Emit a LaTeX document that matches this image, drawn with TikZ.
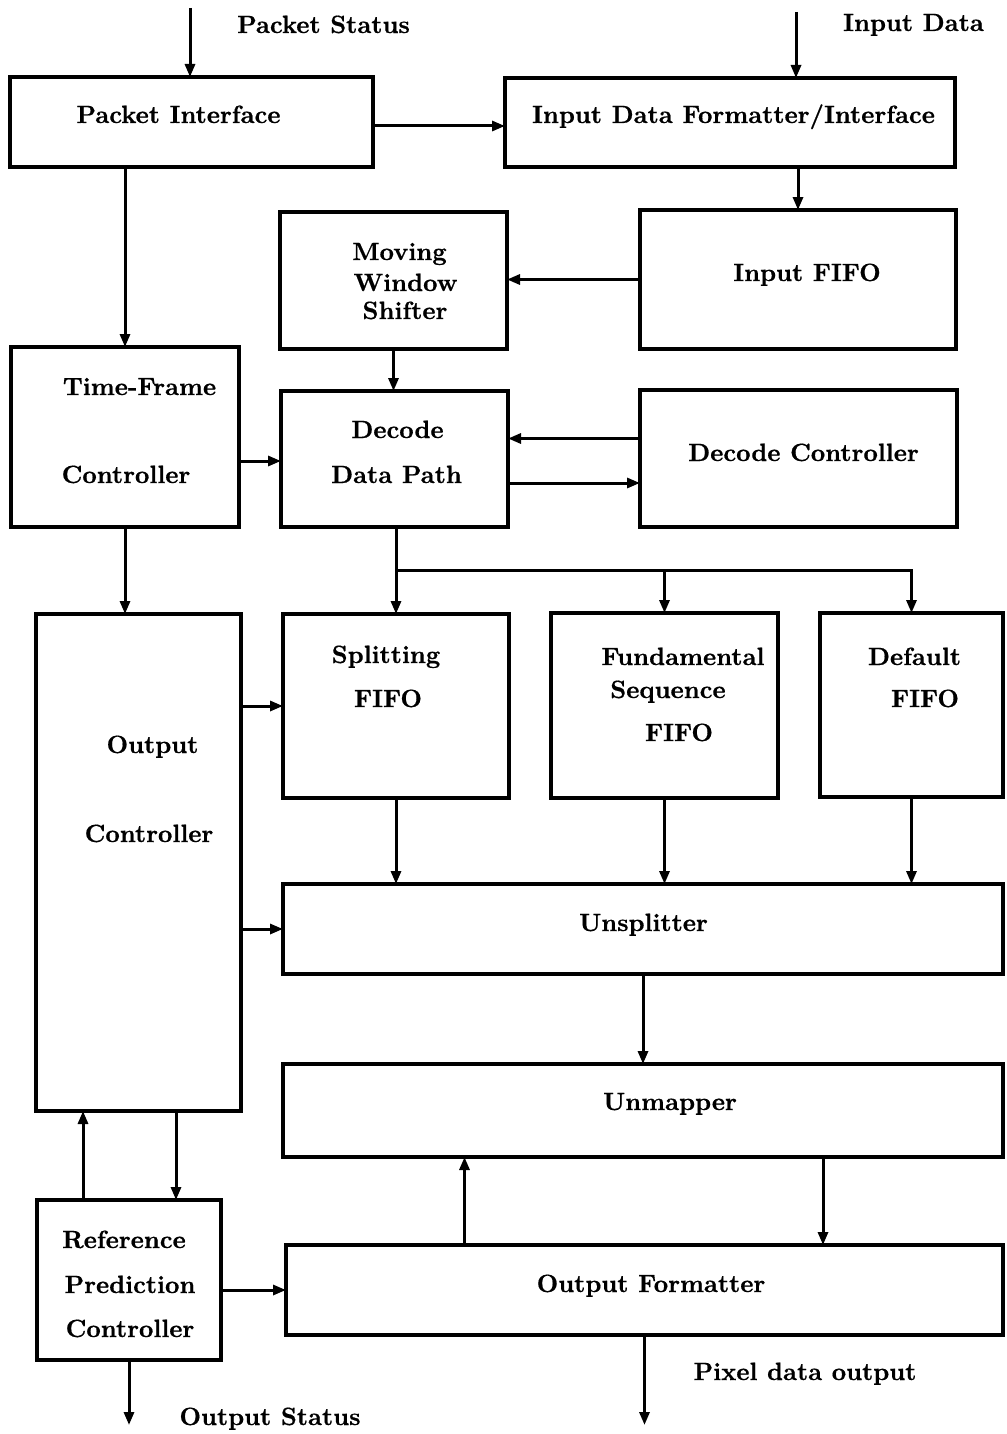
\documentclass[tikz,border=0pt]{standalone}
\usepackage{fontspec}
\newfontfamily\heavyfont{lmroman10-bold.otf}[FakeBold=0.6]
\usetikzlibrary{arrows.meta,calc}
\begin{document}
\begin{tikzpicture}[x=0.5pt,y=-0.5pt,
  box/.style={draw,line width=1.6pt,inner sep=0pt,outer sep=0pt},
  lbl/.style={font=\fontsize{12.5}{15}\heavyfont,inner sep=0pt,anchor=base},
  arr/.style={line width=1.5pt,-{Triangle[length=6.5pt,width=5pt]}}]
\useasboundingbox (0,0) rectangle (1006,1434);

% boxes
\node[box,minimum width=181.5pt,minimum height=45pt]   (pi)    at (191.5,122)  {};
\node[box,minimum width=225pt,minimum height=44.5pt]   (idf)   at (730,122.5)  {};
\node[box,minimum width=113.5pt,minimum height=68.5pt] (mws)   at (393.5,280.5){};
\node[box,minimum width=158pt,minimum height=69.5pt]   (ififo) at (798,279.5)  {};
\node[box,minimum width=114pt,minimum height=90pt]     (tfc)   at (125,437)    {};
\node[box,minimum width=113.5pt,minimum height=68pt]   (ddp)   at (394.5,459)  {};
\node[box,minimum width=158.5pt,minimum height=68.5pt] (dc)    at (798.5,458.5){};
\node[box,minimum width=102.5pt,minimum height=248.5pt](oc)    at (138.5,862.5){};
\node[box,minimum width=113pt,minimum height=92pt]     (sf)    at (396,706)    {};
\node[box,minimum width=113.5pt,minimum height=92.5pt] (fsf)   at (664.5,705.5){};
\node[box,minimum width=91.5pt,minimum height=92pt]    (df)    at (911.5,705)  {};
\node[box,minimum width=360pt,minimum height=45pt]     (us)    at (643,929)    {};
\node[box,minimum width=360pt,minimum height=46.5pt]   (um)    at (643,1110.5) {};
\node[box,minimum width=92pt,minimum height=80pt]      (rpc)   at (129,1280)   {};
\node[box,minimum width=358.5pt,minimum height=45pt]   (of)    at (644.5,1290) {};

% texts
\node[lbl] (tps)  at (323.5,33)  {Packet Status};
\node[lbl] (tind) at (913.5,31)  {Input Data};
\node[lbl] (tpi)  at (178.5,123) {Packet Interface};
\node[lbl] (tidf) at (733.5,123) {Input Data Formatter/Interface};
\node[lbl] (tmw1) at (399.5,260) {Moving};
\node[lbl] (tmw2) at (405.5,291) {Window};
\node[lbl] (tmw3) at (405,319)   {Shifter};
\node[lbl] (tif)  at (807,281)   {Input FIFO};
\node[lbl] (ttf1) at (139.5,395) {Time-Frame};
\node[lbl] (ttf2) at (126,483)   {Controller};
\node[lbl] (tdd1) at (397.5,438) {Decode};
\node[lbl] (tdd2) at (396.5,483) {Data Path};
\node[lbl] (tdc)  at (803.5,461) {Decode Controller};
\node[lbl] (toc1) at (152.5,753) {Output};
\node[lbl] (toc2) at (149,842)   {Controller};
\node[lbl] (tsf1) at (386,663)   {Splitting};
\node[lbl] (tsf2) at (388,707)   {FIFO};
\node[lbl] (tfs1) at (683,665)   {Fundamental};
\node[lbl] (tfs2) at (668,698)   {Sequence};
\node[lbl] (tfs3) at (679,741)   {FIFO};
\node[lbl] (tdf1) at (914.5,665) {Default};
\node[lbl] (tdf2) at (925,707)   {FIFO};
\node[lbl] (tus)  at (643.5,931) {Unsplitter};
\node[lbl] (tum)  at (670,1110)  {Unmapper};
\node[lbl] (trp1) at (124,1248)  {Reference};
\node[lbl] (trp2) at (130,1293)  {Prediction};
\node[lbl] (trp3) at (130,1337)  {Controller};
\node[lbl] (tof)  at (651,1292)  {Output Formatter};
\node[lbl] (tos)  at (270,1425)  {Output Status};
\node[lbl] (tpo)  at (805,1380)  {Pixel data output};

% free ends
\coordinate (ps)  at (190,8);
\coordinate (ind) at (796,12);
\coordinate (os)  at (128,1425);
\coordinate (po)  at (646,1425);
\coordinate (br)  at ($(sf.north)!0.5!(sf.north |- ddp.south)$);

% connectors
\draw[arr] (ps) -- (ps |- pi.north);
\draw[arr] (ind) -- (ind |- idf.north);
\draw[arr] ([yshift=-2pt]pi.east) -- ([yshift=-2pt]pi.east -| idf.west);
\draw[arr] (ififo.north |- idf.south) -- (ififo.north);
\draw[arr] (tfc.north |- pi.south) -- (tfc.north);
\draw[arr] (ififo.west) -- (ififo.west -| mws.east);
\draw[arr] (mws.south) -- (mws.south |- ddp.north);
\draw[arr] ([yshift=10pt]dc.west) -- ([yshift=10pt]dc.west -| ddp.east);
\draw[arr] ([yshift=-12pt]ddp.east) -- ([yshift=-12pt]ddp.east -| dc.west);
\draw[arr] ([yshift=-12pt]tfc.east) -- ([yshift=-12pt]tfc.east -| ddp.west);
\draw[arr] (tfc.south) -- (tfc.south |- oc.north);
\draw[arr] (sf.north |- ddp.south) -- (sf.north);
\draw[arr] (br) -| (fsf.north);
\draw[arr] (br) -| (df.north);
\draw[arr] (oc.east |- sf.west) -- (sf.west);
\draw[arr] (oc.east |- us.west) -- (us.west);
\draw[arr] (sf.south) -- (sf.south |- us.north);
\draw[arr] (fsf.south) -- (fsf.south |- us.north);
\draw[arr] (df.south) -- (df.south |- us.north);
\draw[arr] (us.south) -- (us.south |- um.north);
\draw[arr] ([xshift=90pt]um.south) -- ([xshift=90pt]um.south |- of.north);
\draw[arr] ([xshift=-90pt]of.north) -- ([xshift=-90pt]of.north |- um.south);
\draw[arr] ([xshift=-23pt]rpc.north) -- ([xshift=-23pt]rpc.north |- oc.south);
\draw[arr] ([xshift=23.5pt]rpc.north |- oc.south) -- ([xshift=23.5pt]rpc.north);
\draw[arr] (rpc.east |- of.west) -- (of.west);
\draw[arr] (rpc.south) -- (rpc.south |- os);
\draw[arr] (of.south) -- (of.south |- po);
\end{tikzpicture}
\end{document}
